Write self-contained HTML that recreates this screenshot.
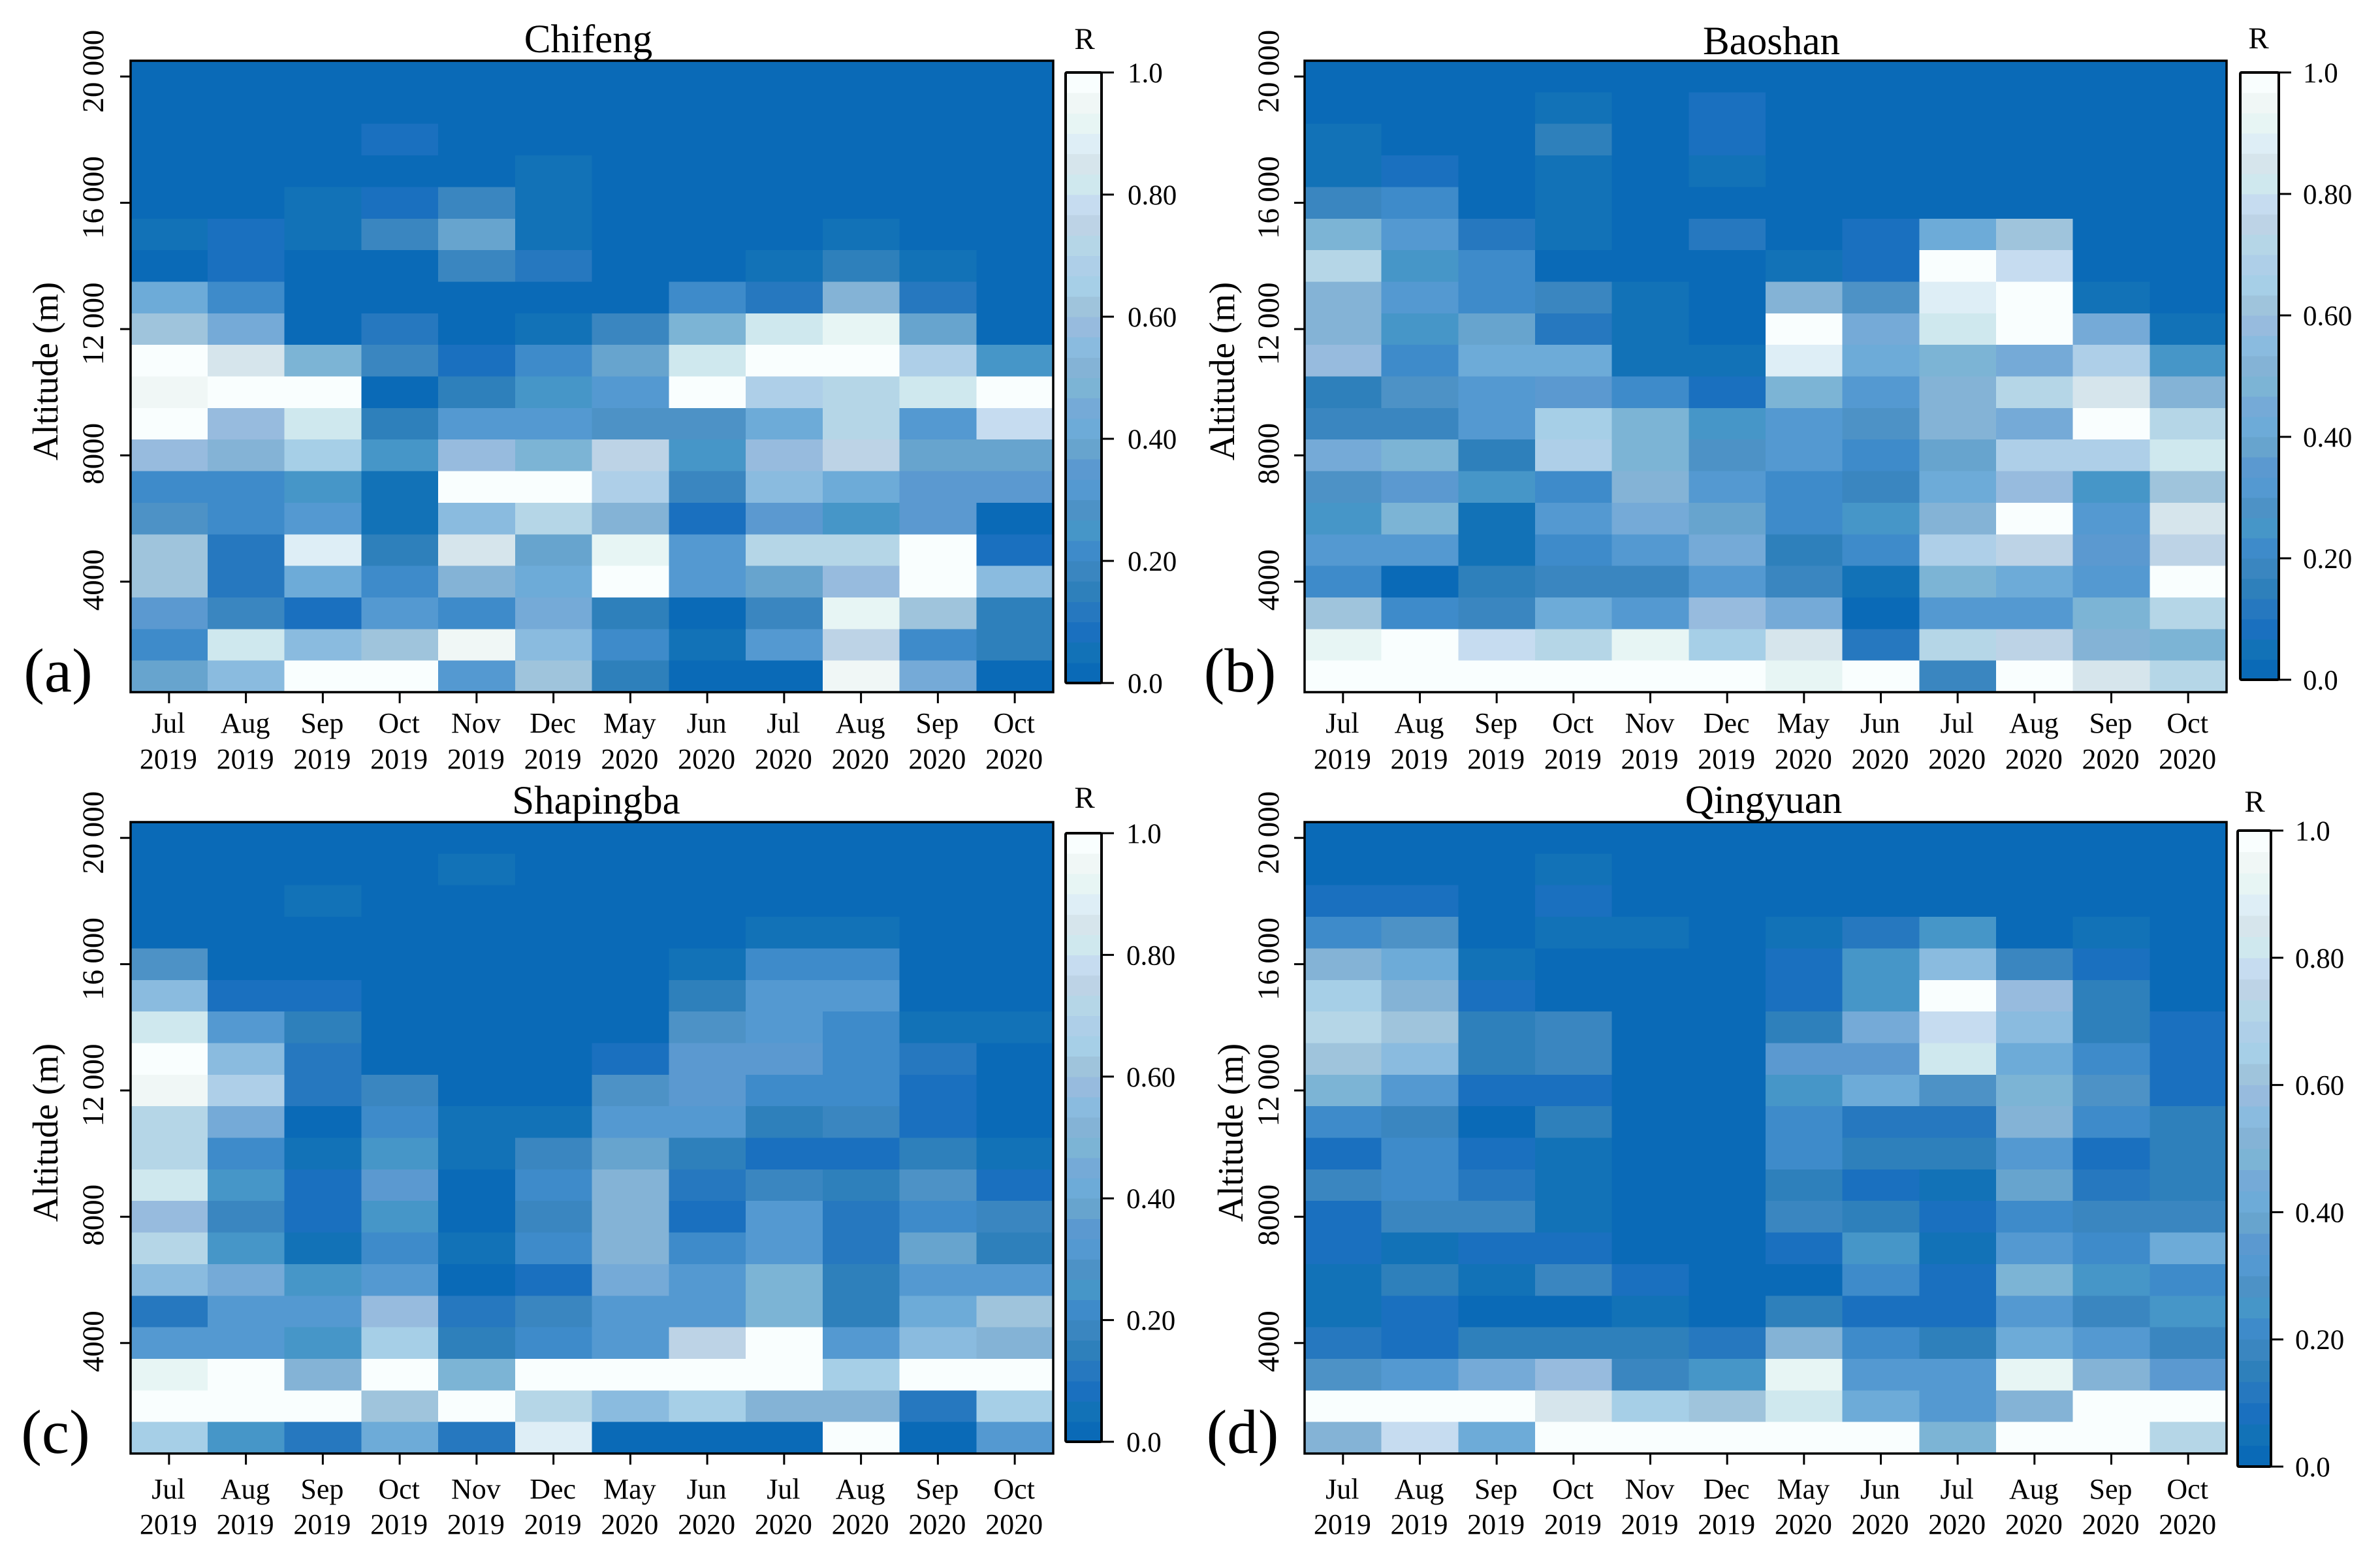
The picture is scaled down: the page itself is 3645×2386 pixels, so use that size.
<!DOCTYPE html>
<html lang="en">
<head>
<meta charset="utf-8">
<title>Correlation R by altitude and month at four stations</title>
<style>
html,body{margin:0;padding:0;background:#fff;}
svg{display:block;}
text{font-family:"Liberation Serif",serif;fill:#000;}
</style>
</head>
<body>
<svg id="figure" xmlns="http://www.w3.org/2000/svg" width="3645" height="2386" viewBox="0 0 3645 2386"></svg>
<script>
const months = ['Jul','Aug','Sep','Oct','Nov','Dec','May','Jun','Jul','Aug','Sep','Oct'];
const years = ['2019','2019','2019','2019','2019','2019','2020','2020','2020','2020','2020','2020'];
const altitudes = [20000,19000,18000,17000,16000,15000,14000,13000,12000,11000,10000,9000,8000,7000,6000,5000,4000,3000,2000,1000];
const altitudeTicks = [20000,16000,12000,8000,4000];
const altitudeTickLabels = ['20\u2009000','16\u2009000','12\u2009000','8000','4000'];
const colorTicks = [1,0.8,0.6,0.4,0.2,0];
const colorTickLabels = ['1.0','0.80','0.60','0.40','0.20','0.0'];

const chifeng = [
[0,0,0,0,0,0,0,0,0,0,0,0],
[0,0,0,0,0,0,0,0,0,0,0,0],
[0,0,0,.07,0,0,0,0,0,0,0,0],
[0,0,0,0,0,.04,0,0,0,0,0,0],
[0,0,.05,.09,.18,.05,0,0,0,0,0,0],
[.05,.09,.05,.17,.37,.05,0,0,0,.04,0,0],
[.01,.08,.01,.01,.17,.12,0,0,.04,.16,.04,0],
[.42,.2,0,0,0,0,0,.22,.11,.52,.12,0],
[.6,.45,0,.12,0,.04,.18,.47,.83,.93,.37,0],
[1,.86,.47,.18,.08,.22,.38,.83,1,1,.68,.25],
[.95,1,1,0,.15,.25,.32,1,.68,.72,.82,1],
[1,.58,.82,.15,.32,.32,.28,.28,.42,.72,.3,.78],
[.57,.5,.65,.24,.58,.47,.75,.26,.57,.76,.37,.37],
[.22,.2,.24,.05,1,1,.68,.17,.56,.42,.34,.36],
[.27,.2,.32,.05,.54,.72,.5,.09,.36,.25,.36,.02],
[.62,.13,.89,.15,.85,.38,.92,.33,.72,.72,1,.08],
[.6,.13,.4,.23,.5,.42,1,.3,.37,.58,1,.55],
[.35,.18,.08,.33,.22,.44,.15,.02,.17,.9,.63,.14],
[.2,.82,.54,.6,.95,.54,.23,.04,.3,.75,.22,.14],
[.37,.54,1,1,.33,.6,.15,0,0,.95,.44,.01]
];
const baoshan = [
[0,0,0,0,0,0,0,0,0,0,0,0],
[0,0,0,.04,0,.08,0,0,0,0,0,0],
[.04,0,0,.14,0,.08,0,0,0,0,0,0],
[.04,.08,0,.05,0,.05,0,0,0,0,0,0],
[.17,.2,0,.05,0,0,0,0,0,0,0,0],
[.47,.3,.13,.05,0,.13,.01,.08,.42,.6,0,0],
[.7,.26,.2,0,0,0,.05,.09,1,.78,0,0],
[.5,.32,.22,.18,.05,0,.53,.27,.88,1,.05,0],
[.53,.25,.38,.13,.05,0,1,.45,.82,1,.45,.04],
[.57,.2,.42,.42,.05,.05,.89,.43,.48,.44,.68,.24],
[.16,.28,.32,.35,.23,.08,.47,.32,.5,.72,.85,.52],
[.18,.17,.32,.66,.48,.24,.31,.27,.5,.44,1,.72],
[.44,.47,.16,.69,.48,.27,.31,.2,.37,.69,.69,.82],
[.28,.34,.26,.2,.52,.3,.23,.18,.4,.58,.24,.6],
[.24,.47,.05,.3,.44,.38,.2,.25,.5,1,.31,.85],
[.33,.31,.05,.2,.33,.45,.14,.2,.69,.75,.34,.75],
[.23,0,.15,.18,.18,.33,.17,.04,.48,.43,.32,1],
[.6,.23,.18,.41,.31,.57,.46,0,.33,.31,.47,.72],
[.92,1,.78,.72,.92,.66,.85,.12,.72,.75,.5,.47],
[1,1,1,1,1,1,.93,1,.18,1,.85,.72]
];
const shapingba = [
[0,0,0,0,0,0,0,0,0,0,0,0],
[0,0,0,0,.04,0,0,0,0,0,0,0],
[0,0,.04,0,0,0,0,0,0,0,0,0],
[0,0,0,0,0,0,0,0,.04,.04,0,0],
[.27,0,0,0,0,0,0,.04,.2,.2,0,0],
[.54,.08,.09,0,0,0,0,.16,.32,.32,0,0],
[.83,.32,.15,0,0,0,0,.29,.32,.23,.05,.05],
[1,.56,.12,0,0,0,.08,.34,.34,.2,.12,0],
[.95,.68,.12,.17,0,0,.28,.34,.22,.2,.07,0],
[.72,.46,0,.2,.04,.04,.31,.33,.15,.17,.09,0],
[.72,.22,.04,.24,.04,.17,.37,.15,.09,.07,.16,.04],
[.83,.26,.08,.34,0,.2,.5,.13,.19,.16,.27,.08],
[.58,.17,.09,.25,0,.18,.5,.07,.32,.12,.23,.17],
[.7,.25,.05,.2,.04,.2,.5,.2,.33,.1,.37,.16],
[.54,.45,.24,.33,0,.07,.44,.3,.48,.15,.32,.32],
[.13,.32,.32,.57,.11,.17,.31,.32,.48,.15,.43,.6],
[.31,.32,.24,.66,.15,.2,.3,.74,1,.3,.54,.53],
[.93,1,.5,1,.47,1,1,1,1,.65,1,1],
[1,1,1,.6,1,.72,.54,.65,.51,.51,.1,.65],
[.65,.25,.13,.42,.12,.89,0,0,0,1,0,.3]
];
const qingyuan = [
[0,0,0,0,0,0,0,0,0,0,0,0],
[0,0,0,.04,0,0,0,0,0,0,0,0],
[.07,.07,0,.08,0,0,0,0,0,0,0,0],
[.2,.27,0,.05,.05,0,.04,.1,.26,0,.05,0],
[.5,.42,.04,0,0,0,.08,.25,.54,.18,.07,0],
[.66,.52,.08,0,0,0,.08,.25,1,.57,.15,0],
[.72,.6,.15,.19,0,0,.15,.45,.78,.54,.15,.08],
[.62,.55,.15,.18,0,0,.34,.34,.83,.4,.2,.08],
[.47,.32,.08,.08,0,0,.25,.42,.27,.48,.27,.08],
[.23,.18,0,.16,0,0,.2,.11,.12,.5,.2,.15],
[.07,.2,.08,.05,0,0,.2,.15,.15,.33,.07,.15],
[.17,.2,.13,.05,0,0,.16,.07,.04,.38,.11,.15],
[.08,.17,.18,.05,0,0,.17,.14,.08,.2,.17,.18],
[.09,.05,.08,.08,0,0,.08,.26,.04,.3,.2,.42],
[.04,.15,.05,.18,.08,0,0,.2,.08,.48,.25,.23],
[.04,.08,0,0,.05,0,.15,.07,.08,.32,.18,.24],
[.13,.08,.15,.15,.15,.11,.52,.21,.15,.42,.3,.18],
[.29,.31,.44,.57,.17,.25,.93,.32,.33,.93,.53,.36],
[1,1,1,.85,.65,.6,.83,.42,.33,.53,1,1],
[.5,.78,.42,1,1,1,1,1,.47,1,1,.72]
];

/* Discrete colour ramp, lowest R first */
const ramp = ['#0a6ab7','#1272b7','#1a70bf','#2678bf','#2e80bb','#3a86c0','#3e8bca','#4696c8','#4d92c6','#5499d1',
'#5b99d0','#67a4ce','#6dabd8','#75aad7','#7cb4d5','#84b3d6','#8abbdf','#97bbde','#9fc4dc','#a6cfe7',
'#aecfe8','#b5d6e7','#bdd3e6','#c6dcf0','#cfe8ee','#d6e5ec','#deeef6','#e7f5f4','#f0f7f6','#f9fefe'];

const layouts = [
 {key:'chifeng',title:'Chifeng',letter:'(a)',values:chifeng,l:200,r:1613,t:93,b:1060,titleX:901,titleY:80,rX:1661,rY:75,
  yTitleX:88,yTickX:158,letterX:89,xb1:1122,xb2:1177,cl:1632,cr:1687,ct:111,cb:1046,cLabel:1727},
 {key:'baoshan',title:'Baoshan',letter:'(b)',values:baoshan,l:1998,r:3410,t:93,b:1060,titleX:2713,titleY:83,rX:3459,rY:74,
  yTitleX:1890,yTickX:1958,letterX:1899,xb1:1122,xb2:1177,cl:3431,cr:3490,ct:111,cb:1041,cLabel:3527},
 {key:'shapingba',title:'Shapingba',letter:'(c)',values:shapingba,l:200,r:1613,t:1259,b:2226,titleX:913,titleY:1246,rX:1661,rY:1237,
  yTitleX:88,yTickX:158,letterX:85,xb1:2295,xb2:2349,cl:1632,cr:1687,ct:1276,cb:2208,cLabel:1725},
 {key:'qingyuan',title:'Qingyuan',letter:'(d)',values:qingyuan,l:1998,r:3410,t:1259,b:2226,titleX:2701,titleY:1245,rX:3453,rY:1243,
  yTitleX:1903,yTickX:1958,letterX:1903,xb1:2295,xb2:2349,cl:3427,cr:3478,ct:1272,cb:2246,cLabel:3515}
];

const SVGNS = 'http://www.w3.org/2000/svg';
const root = document.getElementById('figure');

function make(tag, attrs, parent, content) {
  const node = document.createElementNS(SVGNS, tag);
  for (const k in attrs) node.setAttribute(k, attrs[k]);
  if (content !== undefined) node.textContent = content;
  parent.appendChild(node);
  return node;
}
function colorFor(v) {
  return ramp[Math.min(ramp.length - 1, Math.max(0, Math.floor(v * ramp.length + 1e-9)))];
}

layouts.forEach(function (p) {
  const cols = months.length;
  const rows = altitudes.length;
  const cellW = (p.r - p.l) / cols;
  const cellH = (p.b - p.t) / rows;
  const xScale = function (i) { return p.l + (i + 0.5) * cellW; };
  const yScale = function (alt) { return p.b - (alt / 1000 - 0.5) * cellH; };
  const cScale = function (v) { return p.cb - v * (p.cb - p.ct); };

  const panel = make('g', {}, root);
  
  

  const cells = make('g', {'shape-rendering':'crispEdges'}, panel);
  
  

  altitudes.forEach(function (alt, ri) {
    months.forEach(function (m, ci) {
      const v = p.values[ri][ci];
      const cell = make('rect', {
        x: xScale(ci) - cellW / 2,
        y: yScale(alt) - cellH / 2,
        width: cellW + 0.5,
        height: cellH + 0.5,
        fill: colorFor(v)
      }, cells);
      
      
    });
  });

  const frame = make('rect', {x:p.l, y:p.t, width:p.r-p.l, height:p.b-p.t, fill:'none', stroke:'#000', 'stroke-width':3.5}, panel);
  
  

  const title = make('text', {x:p.titleX, y:p.titleY, 'text-anchor':'middle', 'font-size':61}, panel, p.title);
  
  

  const letter = make('text', {x:p.letterX, y:p.b - 1, 'text-anchor':'middle', 'font-size':95}, panel, p.letter);
  
  

  const midY = (p.t + p.b) / 2 - 8;
  const yTitle = make('text', {x:0, y:0, 'text-anchor':'middle', 'font-size':55,
    transform:'translate(' + p.yTitleX + ' ' + midY + ') rotate(-90)'}, panel, 'Altitude (m)');
  
  

  altitudeTicks.forEach(function (alt, i) {
    const y = yScale(alt);
    const tick = make('line', {x1:p.l - 16, x2:p.l, y1:y, y2:y, stroke:'#000', 'stroke-width':3}, panel);
    
    
    const off = alt >= 10000 ? -8 : -2.5;
    const lab = make('text', {x:0, y:0, 'text-anchor':'middle', 'font-size':47,
      transform:'translate(' + p.yTickX + ' ' + (y + off) + ') rotate(-90)'}, panel, altitudeTickLabels[i]);
    
    
  });

  months.forEach(function (m, i) {
    const x = xScale(i);
    const tick = make('line', {x1:x, x2:x, y1:p.b, y2:p.b + 17, stroke:'#000', 'stroke-width':3}, panel);
    
    
    const monthLab = make('text', {x:x - 1, y:p.xb1, 'text-anchor':'middle', 'font-size':44}, panel, m);
    
    
    const yearLab = make('text', {x:x - 1, y:p.xb2, 'text-anchor':'middle', 'font-size':44}, panel, years[i]);
    
    
  });

  const bar = make('g', {}, panel);
  
  
  const bands = make('g', {'shape-rendering':'crispEdges'}, bar);
  
  
  ramp.forEach(function (c, i) {
    const y1 = cScale((i + 1) / ramp.length);
    const y0 = cScale(i / ramp.length);
    const band = make('rect', {x:p.cl, y:y1, width:p.cr - p.cl, height:y0 - y1 + 0.5, fill:c}, bands);
    
    
  });
  const barFrame = make('rect', {x:p.cl, y:p.ct, width:p.cr - p.cl, height:p.cb - p.ct, fill:'none', stroke:'#000', 'stroke-width':4, rx:2}, bar);
  
  

  colorTicks.forEach(function (v, i) {
    const y = cScale(v);
    const tick = make('line', {x1:p.cr, x2:p.cr + 19, y1:y, y2:y, stroke:'#000', 'stroke-width':3}, bar);
    
    
    const lab = make('text', {x:p.cLabel, y:y + 15, 'font-size':43}, bar, colorTickLabels[i]);
    
    
  });

  const rLab = make('text', {x:p.rX, y:p.rY, 'text-anchor':'middle', 'font-size':47}, bar, 'R');
  
  
});
</script>
</body>
</html>
